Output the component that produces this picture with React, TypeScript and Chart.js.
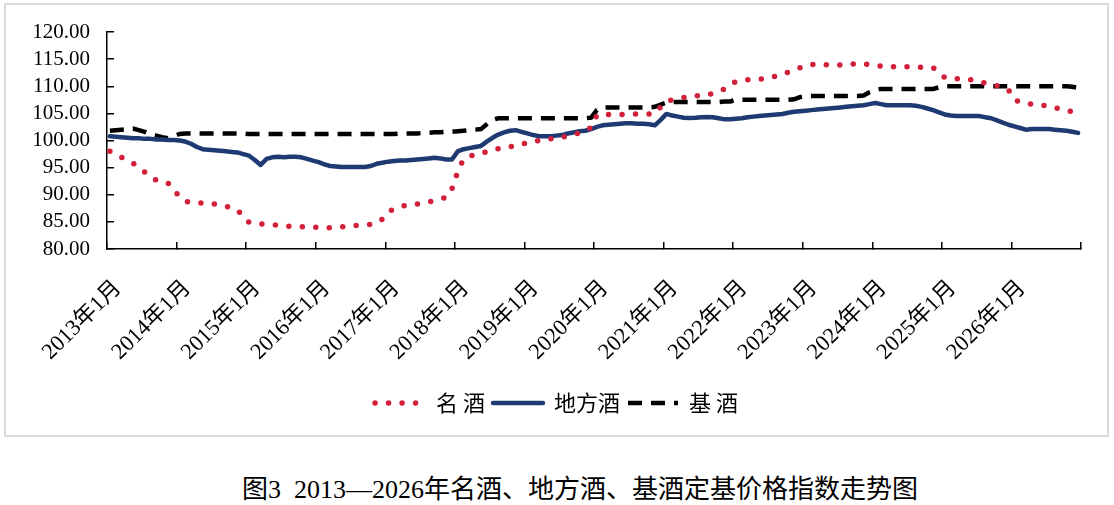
import React, { useEffect, useRef } from 'react';
import { Chart, registerables } from 'chart.js';

Chart.register(...registerables);

// 2013年1月 … 2026年12月, one category per month
const years = [2013, 2014, 2015, 2016, 2017, 2018, 2019, 2020, 2021, 2022, 2023, 2024, 2025, 2026];
const monthLabels = years.flatMap((y) =>
  Array.from({ length: 12 }, (_, m) => `${y}年${m + 1}月`)
);

const yTicks = [80, 85, 90, 95, 100, 105, 110, 115, 120];

// 名酒
const famousLiquor = [
  98.0, 97.5, 96.9, 96.3, 95.8, 95.0, 94.2, 93.3, 92.7, 92.4, 92.2, 91.0,
  89.6, 88.8, 88.6, 88.5, 88.5, 88.4, 88.3, 88.1, 87.9, 87.6, 87.2, 86.0,
  84.9, 84.7, 84.6, 84.6, 84.5, 84.4, 84.3, 84.2, 84.1, 84.1, 84.1, 84.0,
  84.0, 83.9, 83.9, 84.0, 84.1, 84.2, 84.3, 84.4, 84.5, 84.5, 84.8, 85.5,
  86.8, 87.4, 87.8, 88.0, 88.2, 88.3, 88.5, 88.7, 88.9, 89.2, 89.5, 91.1,
  94.3, 96.6, 97.1, 97.4, 97.7, 97.9, 98.2, 98.5, 98.7, 98.8, 99.1, 99.4,
  99.5, 99.8, 100.0, 100.2, 100.3, 100.4, 100.6, 100.9, 101.1, 101.4, 101.8, 102.4,
  104.7, 104.8, 104.8, 104.8, 104.8, 104.8, 104.8, 104.9, 104.9, 104.9, 105.0, 106.2,
  107.2, 107.5, 107.8, 107.9, 108.1, 108.2, 108.3, 108.4, 108.7, 109.0, 109.5, 110.3,
  110.9, 111.1, 111.2, 111.2, 111.3, 111.4, 111.6, 111.9, 112.2, 112.6, 112.9, 113.4,
  113.9, 114.0, 114.1, 114.0, 113.9, 113.9, 113.9, 114.0, 114.1, 114.2, 114.1, 114.0,
  113.8, 113.7, 113.6, 113.6, 113.6, 113.6, 113.6, 113.6, 113.5, 113.5, 113.4, 112.5,
  111.6, 111.4, 111.4, 111.4, 111.3, 111.1, 110.8, 110.6, 110.4, 110.1, 109.7, 109.3,
  107.5, 107.1, 106.8, 106.7, 106.6, 106.5, 106.2, 106.0, 105.8, 105.5, 105.3, 105.1,
];

// 地方酒
const localLiquor = [
  100.8, 100.7, 100.6, 100.5, 100.4, 100.4, 100.3, 100.3, 100.2, 100.2, 100.1, 100.1,
  100.0, 99.8, 99.4, 98.8, 98.4, 98.3, 98.2, 98.1, 98.0, 97.9, 97.8, 97.5,
  97.2, 96.4, 95.5, 96.6, 96.9, 97.0, 96.9, 97.0, 97.0, 96.9, 96.6, 96.3,
  96.0, 95.6, 95.3, 95.2, 95.1, 95.1, 95.1, 95.1, 95.1, 95.3, 95.7, 95.9,
  96.1, 96.2, 96.3, 96.3, 96.4, 96.5, 96.6, 96.7, 96.8, 96.7, 96.5, 96.5,
  98.0, 98.4, 98.6, 98.8, 99.0, 99.8, 100.5, 101.1, 101.5, 101.8, 101.9, 101.6,
  101.3, 101.0, 100.8, 100.8, 100.8, 100.9, 101.0, 101.3, 101.5, 101.7, 101.8, 102.1,
  102.5, 102.8, 102.9, 103.0, 103.1, 103.2, 103.2, 103.1, 103.1, 103.0, 102.8, 103.8,
  104.9, 104.6, 104.4, 104.2, 104.15, 104.2, 104.3, 104.35, 104.3, 104.1, 103.9, 103.9,
  104.0, 104.1, 104.3, 104.4, 104.5, 104.6, 104.7, 104.8, 104.9, 105.1, 105.3, 105.4,
  105.5, 105.6, 105.7, 105.8, 105.9, 106.0, 106.1, 106.2, 106.3, 106.4, 106.5, 106.7,
  106.9, 106.7, 106.5, 106.5, 106.5, 106.5, 106.5, 106.4, 106.2, 105.9, 105.6, 105.2,
  104.8, 104.6, 104.5, 104.5, 104.5, 104.5, 104.5, 104.3, 104.1, 103.7, 103.3, 102.9,
  102.6, 102.3, 102.0, 102.1, 102.1, 102.1, 102.1, 102.0, 101.9, 101.8, 101.6, 101.4,
];

// 基酒
const baseLiquor = [
  101.8, 101.9, 102.0, 102.1, 102.2, 101.9, 101.6, 101.2, 100.9, 100.6, 100.4, 100.8,
  101.2, 101.3, 101.3, 101.3, 101.3, 101.3, 101.3, 101.3, 101.3, 101.3, 101.3, 101.3,
  101.2, 101.2, 101.2, 101.2, 101.2, 101.2, 101.2, 101.2, 101.2, 101.2, 101.2, 101.2,
  101.2, 101.2, 101.2, 101.2, 101.2, 101.2, 101.2, 101.2, 101.2, 101.2, 101.2, 101.2,
  101.2, 101.2, 101.3, 101.3, 101.3, 101.3, 101.4, 101.4, 101.5, 101.5, 101.6, 101.6,
  101.7, 101.8, 101.9, 102.0, 102.1, 103.0, 103.8, 104.1, 104.1, 104.1, 104.1, 104.1,
  104.1, 104.1, 104.1, 104.1, 104.1, 104.1, 104.1, 104.1, 104.1, 104.1, 104.1, 104.2,
  105.6, 106.1, 106.1, 106.1, 106.1, 106.1, 106.1, 106.1, 106.1, 106.1, 106.2, 106.6,
  107.0, 107.1, 107.1, 107.1, 107.1, 107.1, 107.1, 107.1, 107.1, 107.1, 107.2, 107.2,
  107.5, 107.5, 107.5, 107.5, 107.5, 107.5, 107.5, 107.5, 107.5, 107.5, 107.6, 108.0,
  108.2, 108.2, 108.2, 108.2, 108.2, 108.2, 108.2, 108.2, 108.2, 108.2, 108.3, 108.9,
  109.3, 109.5, 109.5, 109.5, 109.5, 109.5, 109.5, 109.5, 109.5, 109.5, 109.5, 109.8,
  110.0, 110.0, 110.0, 110.0, 110.0, 110.0, 110.0, 110.0, 110.0, 110.0, 110.0, 110.0,
  110.0, 110.0, 110.0, 110.0, 110.0, 110.0, 110.0, 110.0, 110.0, 110.0, 109.9, 109.7,
];

const seriesNames = ['名 酒', '地方酒', '基 酒'];

const serif = '"Liberation Serif", "Noto Sans CJK SC"';

const App: React.FC = () => {
  const chartRef = useRef<HTMLCanvasElement>(null);

  useEffect(() => {
    const ctx = chartRef.current?.getContext('2d');
    if (!ctx) return;

    const chart = new Chart(ctx, {
      type: 'line',
      data: {
        labels: monthLabels,
        datasets: [
          {
            label: seriesNames[0],
            data: famousLiquor,
            borderColor: '#d21f3a',
            backgroundColor: '#d21f3a',
            borderWidth: 5.5,
            borderDash: [0, 13.5],
            borderCapStyle: 'round',
            pointRadius: 0,
            tension: 0,
          },
          {
            label: seriesNames[1],
            data: localLiquor,
            borderColor: '#1f3a72',
            backgroundColor: '#1f3a72',
            borderWidth: 4.5,
            borderJoinStyle: 'round',
            borderCapStyle: 'round',
            pointRadius: 0,
            tension: 0,
          },
          {
            label: seriesNames[2],
            data: baseLiquor,
            borderColor: '#000000',
            backgroundColor: '#000000',
            borderWidth: 4.5,
            borderDash: [14, 9],
            pointRadius: 0,
            tension: 0,
          },
        ],
      },
      options: {
        responsive: false,
        animation: false,
        layout: { padding: { left: 0, right: 0, top: 27, bottom: 11 } },
        plugins: {
          tooltip: { enabled: false },
          legend: {
            position: 'bottom',
            labels: {
              usePointStyle: true,
              pointStyleWidth: 50,
              padding: 8,
              color: '#000',
              font: { family: '"Noto Sans CJK SC"', size: 22 },
              generateLabels: (c: any) => {
                const items = Chart.defaults.plugins.legend.labels.generateLabels(c);
                items.forEach((it: any) => {
                  const ds: any = c.data.datasets[it.datasetIndex];
                  it.pointStyle = 'line';
                  it.strokeStyle = ds.borderColor;
                  it.lineWidth = ds.borderWidth;
                  it.lineDash = ds.borderDash || [];
                  it.lineCap = ds.borderCapStyle || 'butt';
                });
                return items;
              },
            },
          },
        },
        scales: {
          x: {
            offset: true,
            grid: {
              offset: true,
              drawOnChartArea: false,
              tickLength: -7,
              lineWidth: 1.5,
              color: (c: any) =>
                c.index === undefined || c.index % 12 === 0 ? '#000' : 'rgba(0,0,0,0)',
            },
            border: { color: '#000', width: 1.5 },
            ticks: {
              autoSkip: false,
              minRotation: 45,
              maxRotation: 45,
              padding: 33,
              labelOffset: 8,
              color: '#000',
              font: { family: serif, size: 22.5 },
              callback: (_v: any, i: number) => (i % 12 === 0 ? monthLabels[i] : ''),
            },
            afterFit: (s: any) => {
              s.height = 135;
              s.paddingLeft = 0;
              s.paddingRight = 0;
            },
          },
          y: {
            min: yTicks[0],
            max: yTicks[yTicks.length - 1],
            grid: {
              drawOnChartArea: false,
              tickLength: -7,
              lineWidth: 1.5,
              color: '#000',
            },
            border: { color: '#000', width: 1.5 },
            ticks: {
              autoSkip: false,
              stepSize: yTicks[1] - yTicks[0],
              padding: 24,
              color: '#000',
              font: { family: serif, size: 21 },
              callback: (v: any) => Number(v).toFixed(2),
            },
            afterFit: (s: any) => {
              s.width = 101;
              s.paddingTop = 0;
              s.paddingBottom = 0;
            },
          },
          spacer: {
            position: 'right',
            grid: { display: false },
            border: { display: false },
            ticks: { display: false },
            afterFit: (s: any) => {
              s.width = 26;
              s.paddingTop = 0;
              s.paddingBottom = 0;
            },
          },
        },
      },
    });

    return () => chart.destroy();
  }, []);

  return (
    <div style={{ position: 'absolute', left: 0, top: 0, width: 1114, height: 505, background: '#fff' }}>
      <div
        style={{
          position: 'absolute',
          left: 4,
          top: 3,
          width: 1101,
          height: 430,
          border: '2px solid #d9d9d9',
        }}
      >
        <canvas ref={chartRef} width={1101} height={430} style={{ display: 'block', width: 1101, height: 430 }} />
      </div>
      <div
        style={{
          position: 'absolute',
          left: 80,
          top: 475,
          width: 1000,
          textAlign: 'center',
          whiteSpace: 'pre',
          font: `26px ${serif}`,
          lineHeight: '30px',
          color: '#000',
        }}
      >
        图3  2013—2026年名酒、地方酒、基酒定基价格指数走势图
      </div>
    </div>
  );
};

export default App;
